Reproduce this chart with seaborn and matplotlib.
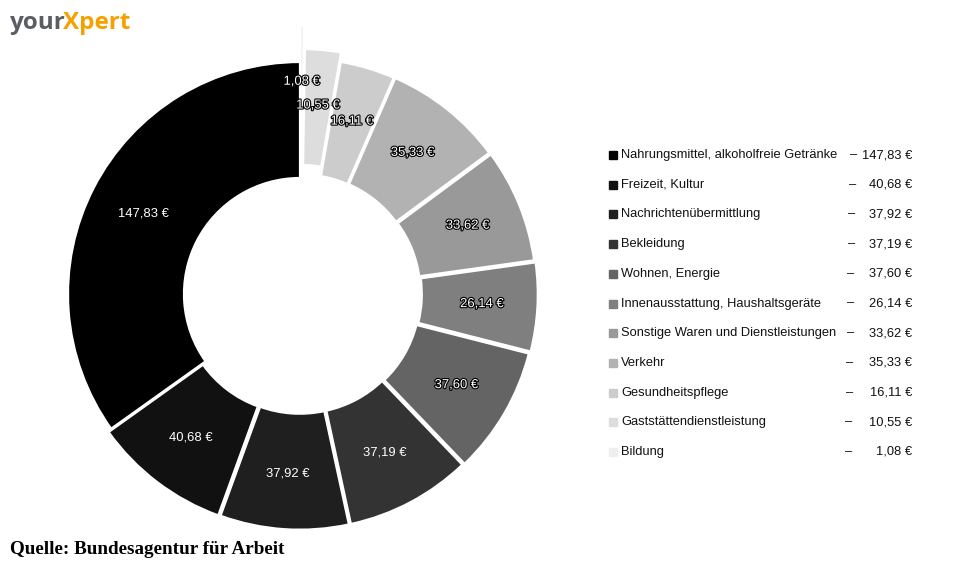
import matplotlib
matplotlib.use("Agg")
import matplotlib.pyplot as plt
import matplotlib.patheffects as pe
import seaborn as sns

sns.set_theme(style="white")
plt.rcParams['font.family'] = ['Liberation Sans', 'DejaVu Sans']

categories = ["Nahrungsmittel, alkoholfreie Getränke", "Freizeit, Kultur",
              "Nachrichtenübermittlung", "Bekleidung", "Wohnen, Energie",
              "Innenausstattung, Haushaltsgeräte",
              "Sonstige Waren und Dienstleistungen", "Verkehr",
              "Gesundheitspflege", "Gaststättendienstleistung", "Bildung"]
values = [147.83, 40.68, 37.92, 37.19, 37.60, 26.14, 33.62, 35.33, 16.11, 10.55, 1.08]
value_labels = ["147,83 €", "40,68 €", "37,92 €", "37,19 €", "37,60 €", "26,14 €",
                "33,62 €", "35,33 €", "16,11 €", "10,55 €", "1,08 €"]
colors = ["#000000", "#111111", "#1f1f1f", "#333333", "#646464", "#7f7f7f",
          "#999999", "#b2b2b2", "#cccccc", "#dddddd", "#eeeeee"]
explode = [0.0, 0.018, 0.016, 0.016, 0.02, 0.025, 0.02, 0.018, 0.016, 0.056, 0.155]
outlined = [False, False, False, False, True, True, True, True, True, True, True]

W, H = 966, 568
fig = plt.figure(figsize=(W / 100, H / 100), dpi=100)

# pie axes: centre at pixel (300, 294), radius 232 px
cx, cy, R = 300, 294, 232
L = 1.2
half = R * L
ax = fig.add_axes([(cx - half) / W, (H - cy - half) / H, 2 * half / W, 2 * half / H])
wedges, texts, autotexts = ax.pie(
    values, colors=colors, explode=explode, startangle=90, counterclock=True,
    radius=1.0, autopct="%1.1f", pctdistance=0.76,
    wedgeprops=dict(width=0.5, edgecolor="white", linewidth=1.6),
    textprops=dict(color="white", fontsize=9.4))
for t, lab, ol in zip(autotexts, value_labels, outlined):
    t.set_text(lab)
    if ol:
        t.set_path_effects([pe.withStroke(linewidth=1.6, foreground="black")])
ax.set_xlim(-L, L)
ax.set_ylim(-L, L)
ax.set_aspect("equal")
ax.axis("off")

# legend (manual rows)
y0, dy = 155, 29.7
fs = 9.3
for i, (cat, lab, col) in enumerate(zip(categories, value_labels, colors)):
    y = y0 + i * dy
    fig.patches.append(plt.Rectangle(((609) / W, (H - y - 4) / H), 8 / W, 8 / H,
                                     transform=fig.transFigure, color=col, figure=fig))
    fig.text(621 / W, (H - y) / H, cat, fontsize=fs, color="#111111",
             ha="left", va="center")
    dash_x = 850 if i == 0 else 849 - i * 0.4
    fig.text(dash_x / W, (H - y) / H, "–", fontsize=fs, color="#111111",
             ha="left", va="center")
    fig.text(912 / W, (H - y) / H, lab, fontsize=fs, color="#111111",
             ha="right", va="center")

# logo
fig.text(10 / W, (H - 23) / H, "your", fontsize=17.5, fontweight="bold",
         color="#5a5e63", family=["Open Sans", "DejaVu Sans"], ha="left", va="center")
fig.text(63 / W, (H - 23) / H, "Xpert", fontsize=17.5, fontweight="bold",
         color="#f5a200", family=["Open Sans", "DejaVu Sans"], ha="left", va="center")

# source
fig.text(10 / W, (H - 549) / H, "Quelle: Bundesagentur für Arbeit", fontsize=13.8,
         fontweight="bold", color="black", family=["Liberation Serif", "DejaVu Serif"],
         ha="left", va="center")

fig.savefig("out.png", dpi=100)
